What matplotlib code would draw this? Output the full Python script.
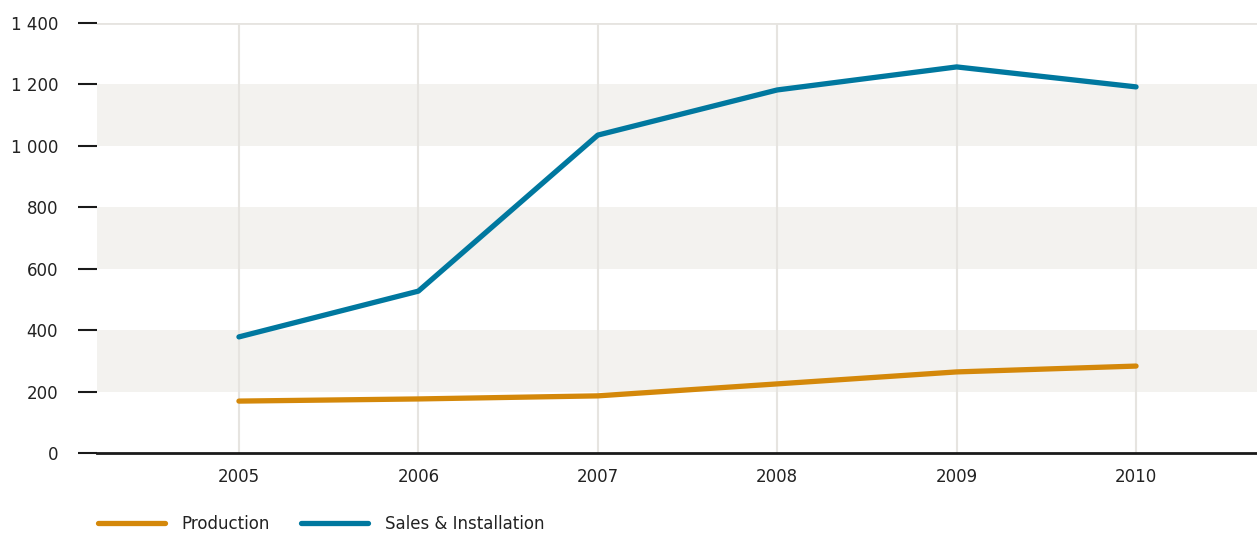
import matplotlib
matplotlib.use("Agg")
import matplotlib.pyplot as plt
from matplotlib.ticker import FuncFormatter

# data
years = [2005, 2006, 2007, 2008, 2009, 2010]
production = [169, 176, 186, 225, 264, 283]
sales_installation = [378, 527, 1035, 1182, 1257, 1192]
y_ticks = [0, 200, 400, 600, 800, 1000, 1200, 1400]
bands = [(200, 400), (600, 800), (1000, 1200)]

col_prod = "#d4880a"
col_sales = "#00789f"
col_band = "#f3f2ef"
col_grid = "#e6e4e0"
col_text = "#222222"

plt.rcParams['font.family'] = ['DejaVu Sans']

fig = plt.figure(figsize=(12.57, 5.34), dpi=100)
ax = fig.add_axes([97 / 1257, 1 - 453 / 534, 1 - 97 / 1257, (453 - 23) / 534])

for lo, hi in bands:
    ax.axhspan(lo, hi, color=col_band, lw=0, zorder=0)

for yr in years:
    ax.axvline(yr, color=col_grid, lw=1.5, zorder=1)
ax.axhline(1400, color=col_grid, lw=2, zorder=1)
ax.axhline(0, color="#1a1a1a", lw=2, zorder=3, clip_on=False)

ax.plot(years, production, color=col_prod, lw=3.8, solid_capstyle="round",
        solid_joinstyle="round", label="Production", zorder=4)
ax.plot(years, sales_installation, color=col_sales, lw=3.8, solid_capstyle="round",
        solid_joinstyle="round", label="Sales & Installation", zorder=4)

ax.set_xlim(2005 - 142 / 179.5, 2010 + 121 / 179.5)
ax.set_ylim(0, 1400)
ax.set_yticks(y_ticks)
ax.set_xticks(years)
ax.yaxis.set_major_formatter(FuncFormatter(lambda v, p: f"{int(v):,}".replace(",", " ")))

for s in ax.spines.values():
    s.set_visible(False)
ax.tick_params(axis="y", length=14, width=1.5, color="#1a1a1a", pad=14,
               labelsize=12, labelcolor=col_text)
ax.tick_params(axis="x", length=0, pad=11, labelsize=12, labelcolor=col_text)

leg = ax.legend(loc="center left", bbox_to_anchor=(98 / 1257, 10 / 534),
                bbox_transform=fig.transFigure, ncol=2, frameon=False,
                handlelength=4.0, handletextpad=1.0, columnspacing=1.9,
                fontsize=12, borderaxespad=0, borderpad=0)
for t in leg.get_texts():
    t.set_color(col_text)

fig.savefig("out.png", dpi=100)
